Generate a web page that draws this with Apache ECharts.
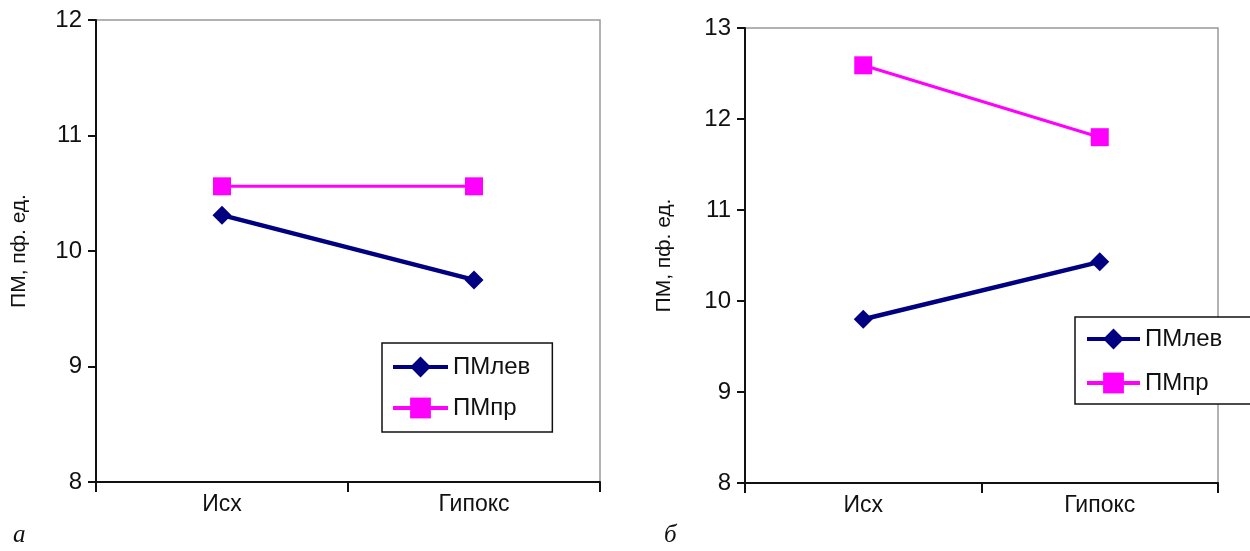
<!DOCTYPE html>
<html>
<head>
<meta charset="utf-8">
<script src="https://cdn.jsdelivr.net/npm/echarts@6/dist/echarts.min.js"></script>
<style>
  html, body { margin: 0; padding: 0; background: #fff; }
  #chart { width: 1250px; height: 551px; }
</style>
</head>
<body>
<div id="chart"></div>
<script>
const categories = ['Исх', 'Гипокс']
// panel а
const levA = [10.31, 9.75]
const prA = [10.56, 10.56]
// panel б
const levB = [9.80, 10.43]
const prB = [12.59, 11.80]

const yName = 'ПМ, пф. ед.'
const font = 'Liberation Sans, Arial, sans-serif'

const chart = echarts.init(document.getElementById('chart'))

function yAxis(idx, min, max, gap) {
  return {
    type: 'value', gridIndex: idx, min: min, max: max, interval: 1,
    name: yName, nameLocation: 'middle', nameGap: gap, nameRotate: 90,
    nameTextStyle: { fontSize: 21, color: '#111', fontFamily: font },
    axisLine: { show: true, lineStyle: { color: '#111', width: 2 } },
    axisTick: { show: true, length: 8, lineStyle: { color: '#111', width: 2 } },
    axisLabel: { fontSize: 24, color: '#111', margin: 14, fontFamily: font },
    splitLine: { show: false }
  }
}

function xAxis(idx) {
  return {
    type: 'category', gridIndex: idx, data: categories, boundaryGap: true,
    axisLine: { lineStyle: { color: '#111', width: 2 } },
    axisTick: { show: true, length: 10, lineStyle: { color: '#111', width: 2 } },
    axisLabel: { fontSize: 23, color: '#111', margin: 11, fontFamily: font }
  }
}

function levSeries(idx, data) {
  return {
    name: 'ПМлев', type: 'line', xAxisIndex: idx, yAxisIndex: idx, data: data,
    symbol: 'diamond', symbolSize: 19, color: '#000080',
    lineStyle: { width: 4.5, color: '#000080' }, itemStyle: { color: '#000080' }
  }
}
function prSeries(idx, data) {
  return {
    name: 'ПМпр', type: 'line', xAxisIndex: idx, yAxisIndex: idx, data: data,
    symbol: 'rect', symbolSize: 18, color: '#ff00ff',
    lineStyle: { width: 3, color: '#ff00ff' }, itemStyle: { color: '#ff00ff' }
  }
}

const legendBase = {
  orient: 'vertical', itemWidth: 55, itemHeight: 26, itemGap: 16,
  borderColor: '#111', borderWidth: 1.5, borderRadius: 0,
  backgroundColor: '#fff',
  textStyle: { fontSize: 24, color: '#111', fontFamily: font },
  lineStyle: { width: 4 },
  selectedMode: false,
  data: ['ПМлев', 'ПМпр']
}

chart.setOption({
  animation: false,
  backgroundColor: '#fff',
  grid: [
    { left: 96, top: 20, width: 504, height: 462, show: true, borderColor: '#999', borderWidth: 1.5 },
    { left: 745, top: 28, width: 473, height: 455, show: true, borderColor: '#999', borderWidth: 1.5 }
  ],
  xAxis: [xAxis(0), xAxis(1)],
  yAxis: [yAxis(0, 8, 12, 66), yAxis(1, 8, 13, 70)],
  legend: [
    Object.assign({}, legendBase, { left: 382, top: 343, itemGap: 17, padding: [12, 22, 12, 9] }),
    Object.assign({}, legendBase, { left: 1075, top: 317, itemWidth: 53, itemGap: 20, padding: [10, 60, 9, 10] })
  ],
  series: [levSeries(0, levA), prSeries(0, prA), levSeries(1, levB), prSeries(1, prB)],
  graphic: [
    { type: 'text', left: 13, top: 523, style: { text: 'а', fontSize: 25, fontStyle: 'italic', fontFamily: 'Liberation Serif, serif', fill: '#111' } },
    { type: 'text', left: 664, top: 523, style: { text: 'б', fontSize: 25, fontStyle: 'italic', fontFamily: 'Liberation Serif, serif', fill: '#111' } }
  ]
})
</script>
</body>
</html>
